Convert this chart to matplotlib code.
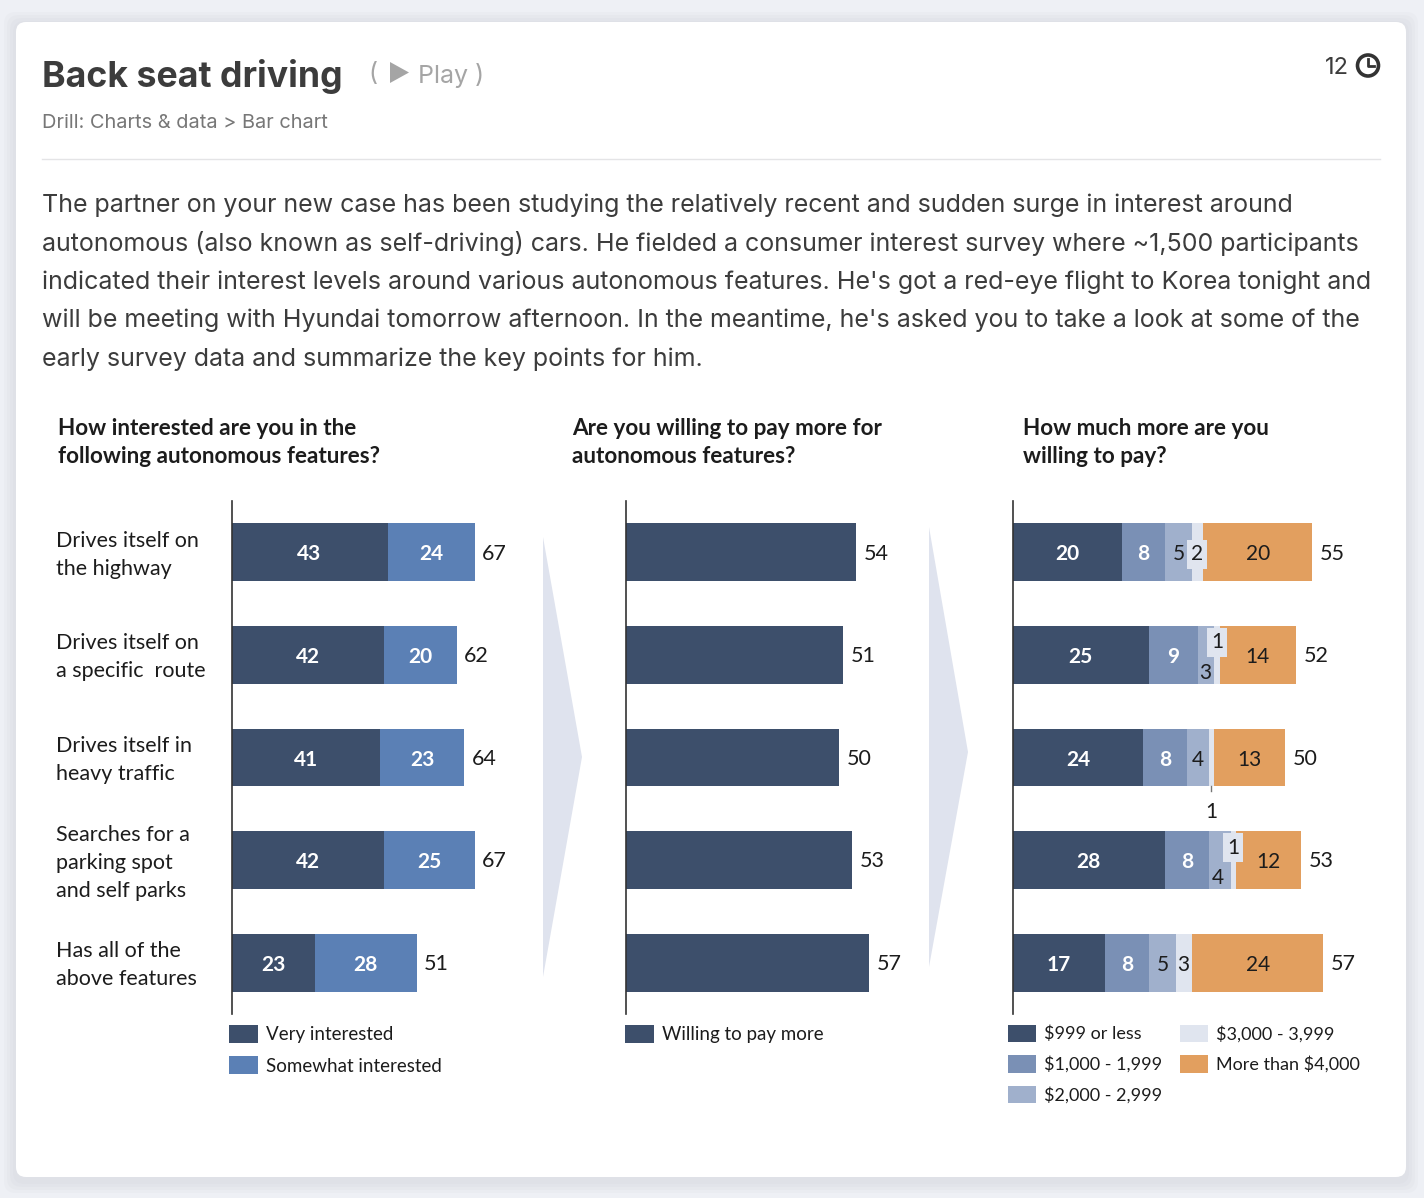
import matplotlib
matplotlib.use('Agg')
import matplotlib.pyplot as plt
from matplotlib.patches import FancyBboxPatch, Polygon, Circle
from matplotlib.transforms import ScaledTranslation

features = ['Drives itself on\nthe highway', 'Drives itself on\na specific  route', 'Drives itself in\nheavy traffic',
            'Searches for a\nparking spot\nand self parks', 'Has all of the\nabove features']
very = [43, 42, 41, 42, 23]
somewhat = [24, 20, 23, 25, 28]
willing = [54, 51, 50, 53, 57]
pay_999 = [20, 25, 24, 28, 17]
pay_1000 = [8, 9, 8, 8, 8]
pay_2000 = [5, 3, 4, 4, 5]
pay_3000 = [2, 1, 1, 1, 3]
pay_4000 = [20, 14, 13, 12, 24]
pay_names = ['$999 or less', '$1,000 - 1,999', '$2,000 - 2,999', '$3,000 - 3,999', 'More than $4,000']

body = ["The partner on your new case has been studying the relatively recent and sudden surge in interest around",
        "autonomous (also known as self-driving) cars. He fielded a consumer interest survey where ~1,500 participants",
        "indicated their interest levels around various autonomous features. He's got a red-eye flight to Korea tonight and",
        "will be meeting with Hyundai tomorrow afternoon. In the meantime, he's asked you to take a look at some of the",
        "early survey data and summarize the key points for him."]

DARK = '#3d4f6b'
BLUE = '#5b80b5'
MID = '#7a90b5'
LIGHT = '#a0b0cc'
PALE = '#e0e5ef'
ORANGE = '#e29f5f'
INK = '#1c1c1c'
UI = 'Inter'
CH = 'Lato'

W, H = 1424, 1198
fig = plt.figure(figsize=(W / 100, H / 100), dpi=100, facecolor='#eef0f5')

# page layer in pixel coordinates
bg = fig.add_axes([0, 0, 1, 1])
bg.set_xlim(0, W)
bg.set_ylim(H, 0)
bg.axis('off')
# soft card shadow
for grow in [12, 9, 6, 3]:
    bg.add_patch(FancyBboxPatch((16 - grow, 24 - grow), 1390 + 2 * grow, 1157 + 2 * grow,
                                boxstyle='round,pad=0,rounding_size=12', fc='#b8bcc6', ec='none', alpha=0.07))
bg.add_patch(FancyBboxPatch((16, 22), 1390, 1155, boxstyle='round,pad=0,rounding_size=10', fc='white', ec='none'))
bg.plot([42, 1380], [159, 159], color='#e4e4e6', lw=1)
bg.text(42, 76, 'Back seat driving', fontsize=25.7, fontweight='bold', family=UI, color='#3c3c3c', va='center')
bg.text(368, 75, '(', fontsize=18, family=UI, color='#a5a5a5', va='center')
bg.add_patch(Polygon([[390, 62], [390, 83], [409, 72.5]], fc='#a5a5a5', ec='none'))
bg.text(418, 75.5, 'Play )', fontsize=18, family=UI, color='#a5a5a5', va='center')
bg.text(42, 122.5, 'Drill: Charts & data > Bar chart', fontsize=14.4, family=UI, color='#777777', va='center')
bg.text(1349, 68, '12', fontsize=17, family=UI, color='#3c3c3c', va='center', ha='right')
bg.add_patch(Circle((1368, 65.5), 10.5, fc='white', ec='#333333', lw=2.6))
bg.plot([1368, 1368, 1374], [59, 66, 66], color='#333333', lw=2)
for i, line in enumerate(body):
    bg.text(42, 205 + i * 38.5, line, fontsize=18, family=UI, color='#3c3c3c', va='center')

head = dict(fontsize=16.2, family=CH, fontweight='bold', color=INK, va='center', linespacing=1.45)
bg.text(58, 442.5, 'How interested are you in the\nfollowing autonomous features?', **head)
bg.text(572, 442.5, 'Are you willing to pay more for\nautonomous features?', **head)
bg.text(1023, 442.5, 'How much more are you\nwilling to pay?', **head)
bg.add_patch(Polygon([[543, 537], [582, 757], [543, 977]], fc='#dfe3ee', ec='none'))
bg.add_patch(Polygon([[929, 527], [968, 752], [929, 967]], fc='#dfe3ee', ec='none'))


def bar_axes(left, width, scale):
    ax = fig.add_axes([left / W, 1 - 1014 / H, width / W, (1014 - 501) / H])
    ax.patch.set_alpha(0)
    ax.set_xlim(0, width / scale)
    ax.set_ylim(4.5, -0.5)
    for s in ['top', 'right', 'bottom']:
        ax.spines[s].set_visible(False)
    ax.spines['left'].set_color('#333333')
    ax.spines['left'].set_linewidth(1.2)
    ax.set_xticks([])
    ax.set_yticks([])
    return ax


def stack(ax, series, colors, names):
    left = [0] * 5
    parts = []
    for vals, c, n in zip(series, colors, names):
        parts.append(ax.barh(range(5), vals, left=left, height=0.565, color=c, label=n))
        left = [a + b for a, b in zip(left, vals)]
    return parts, left


def centre_labels(ax, part, labels=None, **kw):
    for t in ax.bar_label(part, labels=labels, label_type='center', fontsize=15, family=CH, **kw):
        t.xyann = (0, -1.5)  # Lato sits high in its box


def totals(ax, vals):
    for y, t in enumerate(vals):
        ax.annotate(str(t), (t, y), xytext=(5.5, -1), textcoords='offset points', va='center',
                    fontsize=15.5, family=CH, color=INK)


ax1 = bar_axes(231.5, 295, 3.63)
parts, tot = stack(ax1, [very, somewhat], [DARK, BLUE], ['Very interested', 'Somewhat interested'])
for p in parts:
    centre_labels(ax1, p, color='white', fontweight='bold')
totals(ax1, tot)
ax1.set_yticks(range(5))
ax1.set_yticklabels(features, ha='left', fontsize=15.5, family=CH, color=INK, linespacing=1.5)
ax1.tick_params(axis='y', length=0, pad=(231.5 - 56) * 0.72)
for t in ax1.get_yticklabels():
    t.set_transform(t.get_transform() + ScaledTranslation(0, 2.5 / 72, fig.dpi_scale_trans))

ax2 = bar_axes(626, 290, 4.26)
bars2 = ax2.barh(range(5), willing, height=0.565, color=DARK, label='Willing to pay more')
totals(ax2, willing)

ax3 = bar_axes(1012.5, 370, 5.45)
series3 = [pay_999, pay_1000, pay_2000, pay_3000, pay_4000]
colors3 = [DARK, MID, LIGHT, PALE, ORANGE]
parts3, tot3 = stack(ax3, series3, colors3, pay_names)
for k, p in enumerate(parts3):
    # the thin segments get their labels nudged by hand below
    labels = [str(v) for v in series3[k]]
    if k == 2:
        labels[1] = labels[3] = ''
    if k == 3:
        labels = [''] * 5
    col = 'white' if k < 2 else INK
    weight = 'bold' if k < 2 else 'normal'
    centre_labels(ax3, p, labels=labels, color=col, fontweight=weight)
totals(ax3, tot3)


def nudged(text, seg_x, row, dx, dy, boxed=False):
    box = dict(fc=PALE, ec='none', pad=3) if boxed else None
    ax3.annotate(text, (seg_x, row), xytext=(dx, dy), textcoords='offset points', ha='center', va='center',
                 fontsize=15, family=CH, color=INK, bbox=box)


nudged(str(pay_3000[0]), 33 + pay_3000[0] / 2, 0, -0.5, -1.5, True)
nudged(str(pay_3000[1]), 37 + pay_3000[1] / 2, 1, 0, 9, True)
nudged(str(pay_2000[1]), 34 + pay_2000[1] / 2, 1, -0.5, -13)
nudged(str(pay_3000[2]), 36 + pay_3000[2] / 2, 2, 0, -39)
ax3.plot([36.5, 36.5], [2.28, 2.33], color='#777777', lw=1, clip_on=False)
nudged(str(pay_3000[3]), 40 + pay_3000[3] / 2, 3, 0, 9, True)
nudged(str(pay_2000[3]), 36 + pay_2000[3] / 2, 3, -1.5, -13)
nudged(str(pay_3000[4]), 30 + pay_3000[4] / 2, 4, -1, -1.5)

lg = dict(frameon=False, handlelength=1.55, handleheight=1.1, labelspacing=0.72,
          loc='upper left', borderpad=0, borderaxespad=0, handletextpad=0.43, labelcolor=INK)
top = 1 - 1024.5 / H
fig.legend(handles=parts, bbox_to_anchor=(229 / W, top), prop={'family': CH, 'size': 13.5}, **lg)
fig.legend(handles=[bars2], bbox_to_anchor=(625 / W, top), prop={'family': CH, 'size': 13.5}, **lg)
fig.legend(handles=parts3, ncol=2, columnspacing=1.0, bbox_to_anchor=(1008 / W, top),
           prop={'family': CH, 'size': 13}, **lg)

fig.savefig('out.png', dpi=100, facecolor=fig.get_facecolor())
